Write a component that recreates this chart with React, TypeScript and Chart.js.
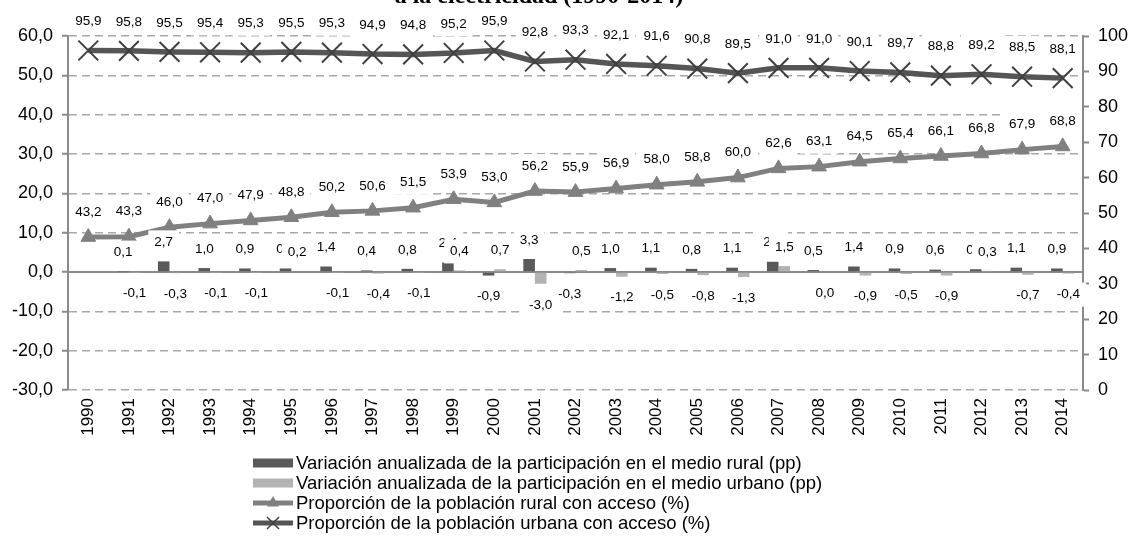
import { useEffect, useRef } from 'react';
import { Chart, registerables } from 'chart.js';

Chart.register(...registerables);

const years = ['1990','1991','1992','1993','1994','1995','1996','1997','1998','1999','2000','2001','2002','2003','2004','2005','2006','2007','2008','2009','2010','2011','2012','2013','2014'];

const ruralVar: (number | null)[] = [null, 0.1, 2.7, 1.0, 0.9, 0.9, 1.4, 0.4, 0.8, 2.4, -0.9, 3.3, -0.3, 1.0, 1.1, 0.8, 1.1, 2.6, 0.5, 1.4, 0.9, 0.6, 0.7, 1.1, 0.9];
const urbanVar: (number | null)[] = [null, -0.1, -0.3, -0.1, -0.1, 0.2, -0.1, -0.4, -0.1, 0.4, 0.7, -3.0, 0.5, -1.2, -0.5, -0.8, -1.3, 1.5, 0.0, -0.9, -0.5, -0.9, 0.3, -0.7, -0.4];
const ruralAccess = [43.2, 43.3, 46.0, 47.0, 47.9, 48.8, 50.2, 50.6, 51.5, 53.9, 53.0, 56.2, 55.9, 56.9, 58.0, 58.8, 60.0, 62.6, 63.1, 64.5, 65.4, 66.1, 66.8, 67.9, 68.8];
const urbanAccess = [95.9, 95.8, 95.5, 95.4, 95.3, 95.5, 95.3, 94.9, 94.8, 95.2, 95.9, 92.8, 93.3, 92.1, 91.6, 90.8, 89.5, 91.0, 91.0, 90.1, 89.7, 88.8, 89.2, 88.5, 88.1];

const legendLabels = [
  'Variación anualizada de la participación en el medio rural (pp)',
  'Variación anualizada de la participación en el medio urbano (pp)',
  'Proporción de la población rural con acceso (%)',
  'Proporción de la población urbana con acceso (%)',
];
const titleText = 'a la electricidad (1990-2014)';

const C_RURAL_BAR = '#595959';
const C_URBAN_BAR = '#b3b3b3';
const C_RURAL_LINE = '#808080';
const C_URBAN_LINE = '#555555';
const C_URBAN_MARK = '#404040';
const C_AXIS = '#8a8a8a';
const C_GRID = '#a8a8a8';
const FONT = '"Liberation Sans", Arial, sans-serif';

const fmt = (v: number) => v.toFixed(1).replace('.', ',');

function drawTriangle(ctx: CanvasRenderingContext2D, x: number, y: number, r: number, color: string) {
  ctx.beginPath();
  for (let k = 0; k < 3; k++) {
    const a = -Math.PI / 2 + (k * 2 * Math.PI) / 3;
    const px = x + Math.cos(a) * r;
    const py = y + Math.sin(a) * r;
    if (k === 0) ctx.moveTo(px, py); else ctx.lineTo(px, py);
  }
  ctx.closePath();
  ctx.fillStyle = color;
  ctx.fill();
}

function drawX(ctx: CanvasRenderingContext2D, x: number, y: number, h: number, color: string, w: number) {
  ctx.beginPath();
  ctx.moveTo(x - h, y - h); ctx.lineTo(x + h, y + h);
  ctx.moveTo(x - h, y + h); ctx.lineTo(x + h, y - h);
  ctx.strokeStyle = color;
  ctx.lineWidth = w;
  ctx.stroke();
}

const overlayPlugin = {
  id: 'overlay',
  beforeDatasetsDraw(chart: any) {
    const { ctx, chartArea, scales } = chart;
    const y0 = scales.y.getPixelForValue(0);
    ctx.save();
    ctx.strokeStyle = C_AXIS;
    ctx.lineWidth = 2;
    ctx.beginPath();
    ctx.moveTo(chartArea.left, y0);
    ctx.lineTo(chartArea.right, y0);
    ctx.stroke();
    ctx.restore();
  },
  afterDatasetsDraw(chart: any) {
    const ctx: CanvasRenderingContext2D = chart.ctx;
    ctx.save();
    ctx.font = '13.5px ' + FONT;
    ctx.textAlign = 'center';
    ctx.textBaseline = 'middle';
    // bar labels first (rural, then urban), then line labels
    const drawOrder = [2, 3, 0, 1];
    drawOrder.forEach((di) => {
      const ds: any = chart.data.datasets[di];
      const meta = chart.getDatasetMeta(di);
      meta.data.forEach((el: any, i: number) => {
        const v = ds.data[i];
        if (v === null || v === undefined) return;
        let y: number;
        if (ds.type === 'bar') y = v > 0 ? el.y - 19 : el.y + 21;
        else y = el.y - (di === 1 ? 29 : 25);
        const t = fmt(v);
        const w = ctx.measureText(t).width;
        ctx.fillStyle = '#ffffff';
        ctx.fillRect(el.x - w / 2 - 6, y - 12, w + 12, 24);
        ctx.fillStyle = '#000000';
        ctx.fillText(t, el.x, y);
      });
    });
    ctx.restore();
  },
  afterDraw(chart: any) {
    const ctx: CanvasRenderingContext2D = chart.ctx;
    ctx.save();
    // title (partially cut at top)
    ctx.font = 'bold 24px "Liberation Serif", "Times New Roman", serif';
    ctx.textAlign = 'center';
    ctx.textBaseline = 'alphabetic';
    ctx.fillStyle = '#000';
    ctx.fillText(titleText, 539, 3);

    // legend
    const sx = 253, sw = 40, tx = 296;
    const rows = [463, 483, 503, 523];
    ctx.fillStyle = C_RURAL_BAR;
    ctx.fillRect(sx, rows[0] - 4.5, sw, 9);
    ctx.fillStyle = C_URBAN_BAR;
    ctx.fillRect(sx, rows[1] - 4.5, sw, 9);
    ctx.strokeStyle = C_RURAL_LINE;
    ctx.lineWidth = 5;
    ctx.beginPath(); ctx.moveTo(sx, rows[2]); ctx.lineTo(sx + sw, rows[2]); ctx.stroke();
    drawTriangle(ctx, sx + sw / 2, rows[2], 7, C_RURAL_LINE);
    ctx.strokeStyle = C_URBAN_LINE;
    ctx.lineWidth = 5;
    ctx.beginPath(); ctx.moveTo(sx, rows[3]); ctx.lineTo(sx + sw, rows[3]); ctx.stroke();
    drawX(ctx, sx + sw / 2, rows[3], 6, C_URBAN_MARK, 1.5);

    ctx.font = '18.5px ' + FONT;
    ctx.textAlign = 'left';
    ctx.textBaseline = 'middle';
    ctx.fillStyle = '#000';
    legendLabels.forEach((l, i) => ctx.fillText(l, tx, rows[i] + 1));
    ctx.restore();
  },
};

export default function App() {
  const ref = useRef<HTMLCanvasElement>(null);
  useEffect(() => {
    if (!ref.current) return;
    Chart.defaults.font.family = FONT;
    const chart = new Chart(ref.current, {
      data: {
        labels: years,
        datasets: [
          {
            type: 'line',
            label: legendLabels[2],
            data: ruralAccess,
            yAxisID: 'y1',
            borderColor: C_RURAL_LINE,
            borderWidth: 5,
            pointStyle: 'triangle',
            pointRadius: 8.5,
            pointBackgroundColor: C_RURAL_LINE,
            pointBorderColor: C_RURAL_LINE,
            pointBorderWidth: 1,
            tension: 0,
            order: 2,
          } as any,
          {
            type: 'line',
            label: legendLabels[3],
            data: urbanAccess,
            yAxisID: 'y1',
            borderColor: C_URBAN_LINE,
            borderWidth: 5.5,
            pointStyle: 'crossRot',
            pointRadius: 14,
            pointBackgroundColor: C_URBAN_MARK,
            pointBorderColor: C_URBAN_MARK,
            pointBorderWidth: 2,
            tension: 0,
            order: 1,
          } as any,
          {
            type: 'bar',
            label: legendLabels[0],
            data: ruralVar,
            yAxisID: 'y',
            backgroundColor: C_RURAL_BAR,
            categoryPercentage: 0.57,
            barPercentage: 1,
            order: 3,
          } as any,
          {
            type: 'bar',
            label: legendLabels[1],
            data: urbanVar,
            yAxisID: 'y',
            backgroundColor: C_URBAN_BAR,
            categoryPercentage: 0.57,
            barPercentage: 1,
            order: 4,
          } as any,
        ],
      },
      options: {
        responsive: false,
        animation: false,
        devicePixelRatio: 1,
        events: [],
        layout: { padding: { top: 36, left: 0, right: 0, bottom: 0 } },
        plugins: { legend: { display: false }, tooltip: { enabled: false }, title: { display: false } },
        scales: {
          x: {
            type: 'category',
            grid: { display: false, drawTicks: false },
            border: { display: false },
            ticks: {
              minRotation: 90,
              maxRotation: 90,
              autoSkip: false,
              color: '#000',
              padding: 8,
              font: { size: 17, family: FONT },
            },
            afterFit: (s: any) => { s.height = 152; },
          },
          y: {
            position: 'left',
            min: -30,
            max: 60,
            ticks: {
              stepSize: 10,
              color: '#000',
              padding: 9,
              font: { size: 18, family: FONT },
              callback: (v: any) => fmt(Number(v)),
            },
            grid: { color: C_GRID, lineWidth: 1.5, tickColor: C_AXIS, tickLength: 6, tickWidth: 2 },
            border: { display: true, color: C_AXIS, width: 2, dash: [8, 5] },
            afterFit: (s: any) => { s.width = 68; },
          },
          y1: {
            position: 'right',
            min: 0,
            max: 100,
            ticks: {
              stepSize: 10,
              color: '#000',
              padding: 9,
              font: { size: 18, family: FONT },
            },
            grid: { drawOnChartArea: false, tickColor: C_AXIS, tickLength: 6, tickWidth: 2 },
            border: { display: true, color: C_AXIS, width: 2 },
            afterFit: (s: any) => { s.width = 47; },
          },
        },
      } as any,
      plugins: [overlayPlugin],
    });
    return () => chart.destroy();
  }, []);
  return (
    <div style={{ position: 'absolute', left: 0, top: 0, width: 1130, height: 542, background: '#fff' }}>
      <canvas ref={ref} width={1130} height={542} />
    </div>
  );
}
